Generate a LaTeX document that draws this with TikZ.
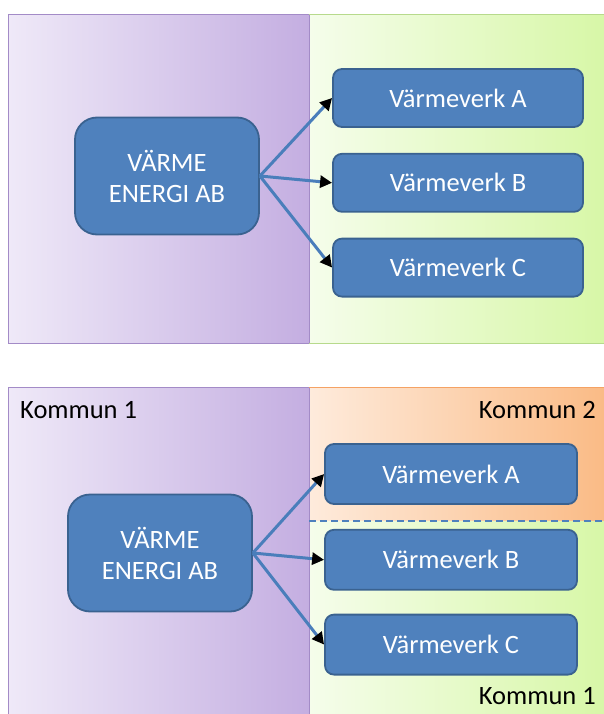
\documentclass[tikz,border=0pt]{standalone}
\usepackage{fontspec}
\setmainfont{Carlito}
\usepackage{xcolor}
\usetikzlibrary{positioning,arrows.meta}

\definecolor{boxblue}{HTML}{4F81BD}
\definecolor{boxedge}{HTML}{3A6290}
\definecolor{linkblue}{HTML}{4A7EBB}
\definecolor{lilaclight}{HTML}{EFE9F8}
\definecolor{lilacdark}{HTML}{C4AEE1}
\definecolor{lilacedge}{HTML}{A38BC7}
\definecolor{greenlight}{HTML}{F5FDEB}
\definecolor{greendark}{HTML}{D7F7A6}
\definecolor{greenedge}{HTML}{B7DA8C}
\definecolor{orangelight}{HTML}{FEEBDC}
\definecolor{orangedark}{HTML}{FABA84}
\definecolor{orangeedge}{HTML}{F5A264}

\begin{document}
\begin{tikzpicture}[x=1pt,y=-1pt,
  plant/.style={rectangle,draw=boxedge,fill=boxblue,line width=1.8pt,
    rounded corners=9pt,minimum width=250pt,minimum height=58pt,
    inner sep=0pt,text=white,font=\fontsize{26.5}{31}\selectfont},
  firm/.style={plant,minimum width=184pt,minimum height=117pt,
    rounded corners=22pt,align=center},
  link/.style={draw=linkblue,line width=3pt,
    -{Triangle[color=black,length=12pt,width=12pt]}},
  kommun/.style={font=\fontsize{26.5}{31}\selectfont,text=black,inner sep=0pt}]
  \useasboundingbox (0,0) rectangle (604,714);
  \clip (0,0) rectangle (604,714);
  \fill[white] (0,0) rectangle (604,714);

  % upper panel
  \shade[left color=lilaclight,right color=lilacdark] (8,15) rectangle (309,343);
  \shade[left color=greenlight,right color=greendark] (309,15) rectangle (610,343);
  \draw[lilacedge,line width=1pt] (309,15) -- (8,15) -- (8,343) -- (309,343) -- cycle;
  \draw[greenedge,line width=1pt] (610,15) -- (309,15) (309,343) -- (610,343);

  \node[firm] (firm1) at (167,176) {VÄRME\\ENERGI AB};
  \node[plant] (plantA1) at (458,98) {Värmeverk A};
  \node[plant,below=25pt of plantA1] (plantB1) {Värmeverk B};
  \node[plant,below=25pt of plantB1] (plantC1) {Värmeverk C};

  \draw[link] (firm1.east) -- (plantA1.west);
  \draw[link] (firm1.east) -- (plantB1.west);
  \draw[link] (firm1.east) -- (plantC1.west);

  % lower panel
  \shade[left color=lilaclight,right color=lilacdark] (8,387) rectangle (309,720);
  \shade[left color=orangelight,right color=orangedark] (309,387) rectangle (610,521);
  \shade[left color=greenlight,right color=greendark] (309,521) rectangle (610,720);
  \draw[lilacedge,line width=1pt] (8,720) -- (8,387) -- (309,387) -- (309,720);
  \draw[orangeedge,line width=1pt] (309,387) -- (610,387);
  \draw[boxblue,line width=2pt,dash pattern=on 7pt off 4pt] (309,521) -- (610,521);

  \node[kommun,anchor=base west] (kommun1) at (20,418) {Kommun 1};
  \node[kommun,anchor=base east] (kommun2) at (596,418) {Kommun 2};
  \node[kommun,anchor=base east] (kommun1b) at (596,704) {Kommun 1};

  \node[firm] (firm2) at (160,553) {VÄRME\\ENERGI AB};
  \node[plant,minimum height=60pt,minimum width=252pt] (plantA2) at (451,474) {Värmeverk A};
  \node[plant,minimum height=60pt,minimum width=252pt,below=24pt of plantA2] (plantB2) {Värmeverk B};
  \node[plant,minimum height=60pt,minimum width=252pt,below=23pt of plantB2] (plantC2) {Värmeverk C};

  \draw[link] (firm2.east) -- (plantA2.west);
  \draw[link] (firm2.east) -- (plantB2.west);
  \draw[link] (firm2.east) -- (plantC2.west);
\end{tikzpicture}
\end{document}
